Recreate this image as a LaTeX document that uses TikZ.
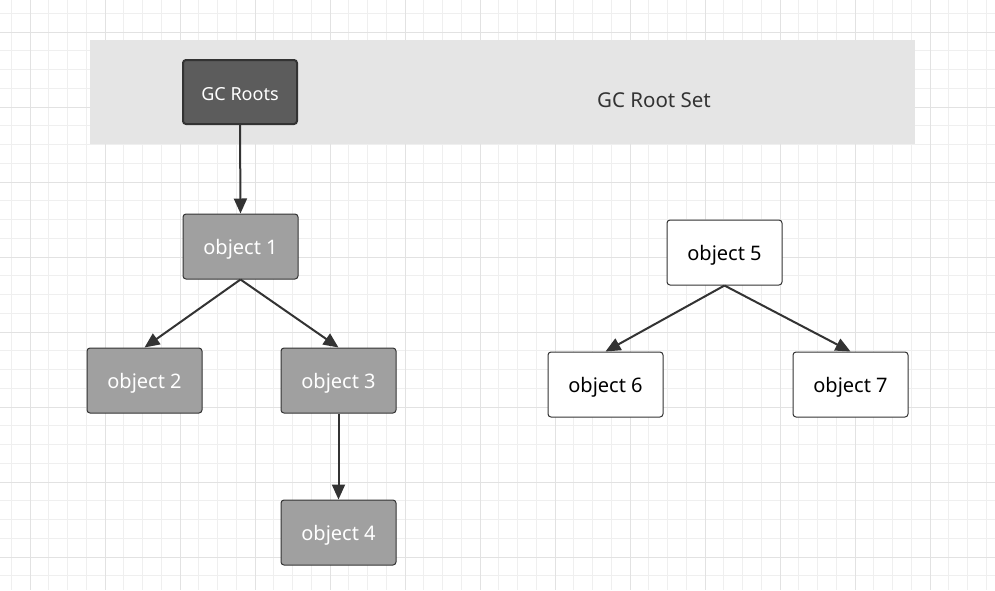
\documentclass[tikz,border=0pt]{standalone}
\usepackage{fontspec}
\setmainfont{Noto Sans}
\usetikzlibrary{arrows.meta}
\definecolor{gridminor}{HTML}{EFEFEF}
\definecolor{gridmajor}{HTML}{E2E2E2}
\definecolor{bandgray}{HTML}{E5E5E5}
\definecolor{rootgray}{HTML}{5C5C5C}
\definecolor{objgray}{HTML}{A0A0A0}
\definecolor{linegray}{HTML}{333333}
\tikzset{
  objbox/.style={draw=linegray, line width=1pt, rounded corners=3pt,
    minimum width=115pt, minimum height=65pt, text height=17pt, text depth=1pt,
    font=\fontsize{20}{24}\selectfont},
  live/.style={objbox, fill=objgray, text=white},
  dead/.style={objbox, fill=white, text=black},
  rootbox/.style={objbox, line width=2pt, fill=rootgray, text=white,
    minimum width=114pt, minimum height=64pt, font=\fontsize{18}{22}\selectfont},
  ref/.style={draw=linegray, line width=2pt, -{Triangle[length=15pt,width=13pt]}}
}
\begin{document}
\begin{tikzpicture}[x=1pt,y=-1pt]
\useasboundingbox (0,0) rectangle (995,590);
\fill[white] (0,0) rectangle (995,590);
% grid
\foreach \i in {0,...,53} {
  \draw[gridminor, line width=1pt] ({11.25+18.75*\i},0) -- ({11.25+18.75*\i},590);
}
\foreach \j in {0,...,31} {
  \draw[gridminor, line width=1pt] (0,{13.25+18.75*\j}) -- (995,{13.25+18.75*\j});
}
\foreach \i in {0,...,13} {
  \draw[gridmajor, line width=1pt] ({30+75*\i},0) -- ({30+75*\i},590);
}
\foreach \j in {0,...,7} {
  \draw[gridmajor, line width=1pt] (0,{32+75*\j}) -- (995,{32+75*\j});
}
% root set band
\fill[bandgray] (90,40) rectangle (915,144);
\node[text=linegray, font=\fontsize{20.5}{24}\selectfont, text height=17pt, text depth=1pt] (rootset) at (654,99) {GC Root Set};
% reachable objects
\node[rootbox] (roots) at (240,92) {GC Roots};
\node[live] (obj1) at (240.5,246.5) {object 1};
\node[live] (obj2) at (144.5,380.5) {object 2};
\node[live] (obj3) at (338.5,380.5) {object 3};
\node[live] (obj4) at (338.5,532.5) {object 4};
% unreachable objects
\node[dead] (obj5) at (724.5,252.5) {object 5};
\node[dead] (obj6) at (605.5,384.5) {object 6};
\node[dead] (obj7) at (850.5,384.5) {object 7};
% references
\draw[ref] (roots.south) -- (obj1.north);
\draw[ref] (obj1.south) -- (obj2.north);
\draw[ref] (obj1.south) -- (obj3.north);
\draw[ref] (obj3.south) -- (obj4.north);
\draw[ref] (obj5.south) -- (obj6.north);
\draw[ref] (obj5.south) -- (obj7.north);
\end{tikzpicture}
\end{document}
